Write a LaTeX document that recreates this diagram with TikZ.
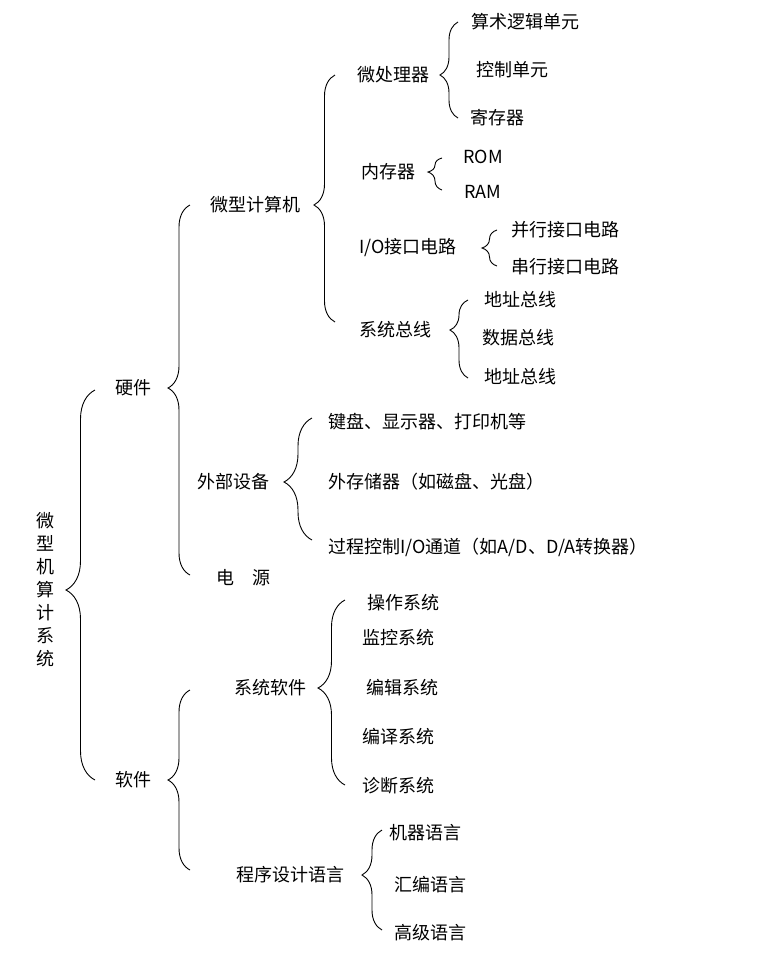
\documentclass[tikz,border=0pt]{standalone}
\usepackage{fontspec}
\setmainfont{Liberation Serif}
\newfontfamily\cjk{Noto Sans CJK SC}
\usetikzlibrary{decorations.pathreplacing}
\tikzset{t/.style={font=\cjk\fontsize{18}{20}\selectfont,inner sep=0pt}}
\newcommand{\brc}[5]{% x top bottom tipx tipy
 \pgfmathsetmacro\asp{(#3-#5)/(#3-#2)}
 \pgfmathsetmacro\amp{#1-#4}
 \draw[decorate,decoration={brace,amplitude=\amp pt,aspect=\asp},line width=0.9pt] (#1,#3) -- (#1,#2);}
\begin{document}
\begin{tikzpicture}[x=1pt,y=-1pt]
\useasboundingbox[fill=white] (0,0) rectangle (780,970);
\node[t,align=center] (root) at (45,590) {微\\[3pt]型\\[3pt]机\\[3pt]算\\[3pt]计\\[3pt]系\\[3pt]统};
\brc{95}{390}{780}{66}{590}
\node[t] (hw) at (133,388) {硬件};
\node[t] (sw) at (133,780) {软件};
\brc{190}{205}{575}{168}{388}
\brc{190}{690}{870}{168}{780}
\node[t] (mc) at (255,205) {微型计算机};
\node[t] (ext) at (233,482) {外部设备};
\node[t] (pw) at (243,578) {电\quad 源};
\brc{335}{75}{322}{314}{205}
\node[t] (cpu) at (393,75) {微处理器};
\node[t] (mem) at (388,172) {内存器};
\node[t] (io) at (408,248) {I/O接口电路};
\node[t] (bus) at (395,330) {系统总线};
\brc{458}{22}{118}{440}{75}
\node[t] (alu) at (525,22) {算术逻辑单元};
\node[t] (ctl) at (512,70) {控制单元};
\node[t] (reg) at (497,118) {寄存器};
\brc{442}{158}{190}{428}{172}
\node[t] (rom) at (483,157) {ROM};
\node[t] (ram) at (483,192) {RAM};
\brc{497}{230}{266}{482}{248}
\node[t] (par) at (565,230) {并行接口电路};
\node[t] (ser) at (565,267) {串行接口电路};
\brc{468}{300}{378}{450}{330}
\node[t] (ab) at (520,300) {地址总线};
\node[t] (db) at (518,338) {数据总线};
\node[t] (ab2) at (520,377) {地址总线};
\brc{312}{418}{540}{284}{482}
\node[t,anchor=west] (kb) at (328,422) {键盘、显示器、打印机等};
\node[t,anchor=west] (st) at (328,482) {外存储器（如磁盘、光盘）};
\node[t,anchor=west] (pc) at (328,547) {过程控制I/O通道（如A/D、D/A转换器）};
\node[t] (ss) at (270,688) {系统软件};
\node[t] (pl) at (290,875) {程序设计语言};
\brc{345}{600}{785}{318}{688}
\node[t] (os) at (403,603) {操作系统};
\node[t] (mon) at (398,638) {监控系统};
\node[t] (ed) at (402,688) {编辑系统};
\node[t] (cp) at (398,737) {编译系统};
\node[t] (dg) at (398,786) {诊断系统};
\brc{382}{830}{930}{362}{875}
\node[t] (ml) at (425,833) {机器语言};
\node[t] (as) at (430,885) {汇编语言};
\node[t] (hl) at (430,933) {高级语言};
\end{tikzpicture}
\end{document}
